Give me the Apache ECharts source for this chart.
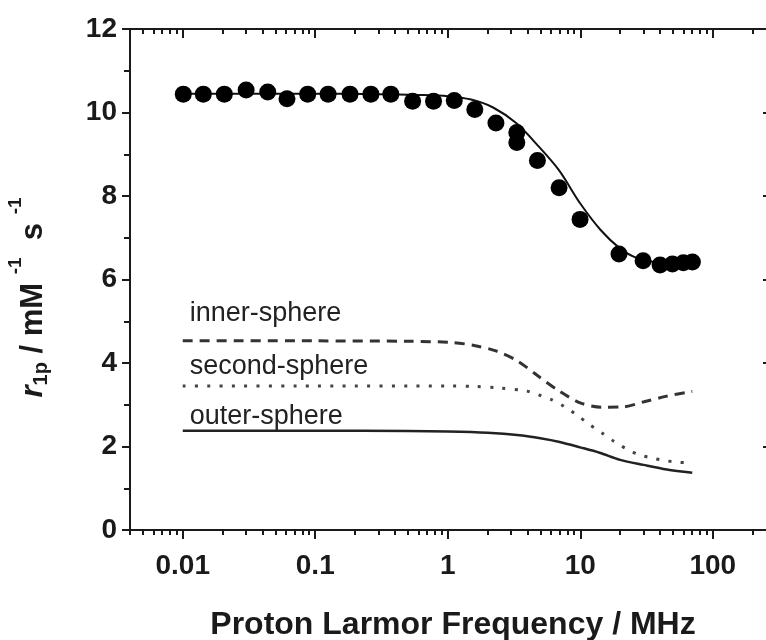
<!DOCTYPE html>
<html><head><meta charset="utf-8">
<script src="https://cdn.jsdelivr.net/npm/echarts@6/dist/echarts.min.js"></script>
<style>html,body{margin:0;padding:0;background:#fff}#c{width:766px;height:640px}</style>
</head><body><div id="c"></div>
<script>
// ---- data ----
const xMin = 0.004, xMax = 300;
const xTickValues = [0.01, 0.1, 1, 10, 100];
const xTickLabels = ['0.01', '0.1', '1', '10', '100'];
const xMinorTicks = [0.004,0.005,0.006,0.007,0.008,0.009,0.02,0.03,0.04,0.05,0.06,0.07,0.08,0.09,
  0.2,0.3,0.4,0.5,0.6,0.7,0.8,0.9,2,3,4,5,6,7,8,9,20,30,40,50,60,70,80,90,200,300];
const yTickLabels = ['0', '2', '4', '6', '8', '10', '12'];

const measuredFreq = [0.0101,0.0143,0.0206,0.0301,0.0438,0.0612,0.0877,0.125,0.183,0.263,0.372,0.543,0.781,1.12,
  1.60,2.31,3.32,3.32,4.75,6.92,9.96,19.6,29.8,40.0,49.6,60.0,70.2];
const measuredR1 = [10.44,10.44,10.44,10.54,10.49,10.33,10.44,10.44,10.44,10.44,10.44,10.27,10.27,10.29,
  10.07,9.75,9.52,9.28,8.85,8.20,7.44,6.61,6.45,6.35,6.37,6.40,6.42];

const fitFreq = [0.01,0.03,0.1,0.3,0.6,1.0,1.5,2.2,3.3,4.75,6.9,10,14.3,20,25.5,30,36,45,55,70];
const fitR1   = [10.45,10.45,10.45,10.44,10.42,10.39,10.31,10.12,9.74,9.22,8.62,7.82,7.18,6.74,6.54,6.47,6.42,6.40,6.40,6.41];

const innerFreq = [0.01,0.1,0.5,1.09,1.58,2.31,3.32,4.75,6.92,10.1,14.5,21.2,30.3,44.1,64.3,70];
const innerR1   = [4.53,4.53,4.52,4.49,4.42,4.29,4.06,3.70,3.33,3.04,2.94,2.95,3.07,3.20,3.30,3.32];

const secondFreq = [0.01,0.1,1.03,1.58,2.44,3.89,4.81,6.0,7.56,9.36,11.6,14.5,18.0,22.7,28.1,35.4,44.1,55.6,69.0];
const secondR1   = [3.45,3.45,3.45,3.44,3.40,3.33,3.24,3.13,2.96,2.76,2.54,2.33,2.12,1.93,1.80,1.72,1.66,1.62,1.61];

const outerFreq = [0.01,0.1,0.5,1,2,3.5,5,7,10,14,20,30,45,70];
const outerR1   = [2.38,2.38,2.37,2.36,2.33,2.27,2.20,2.11,1.98,1.85,1.68,1.56,1.45,1.37];

const seriesNames = ['inner-sphere', 'second-sphere', 'outer-sphere'];

// ---- chart ----
const FONT = '"Liberation Sans", Arial, sans-serif';
const INK = '#1a1a1a';
const zip = (a, b) => a.map((v, i) => [v, b[i]]);
const labelled = (pairs, text, pos) => pairs.map((p, i) => i === 0 ? {
  value: p,
  label: { show: true, formatter: text, position: pos, fontSize: 27, color: '#222', fontFamily: FONT }
} : { value: p });

const axisLineStyle = { color: INK, width: 2 };
const logCommon = { type: 'log', logBase: 10, min: xMin, max: xMax, splitLine: { show: false } };
const minorCommon = { type: 'value', min: Math.log10(xMin), max: Math.log10(xMax), splitLine: { show: false },
  axisLine: { show: false, onZero: false }, axisLabel: { show: false } };

const chart = echarts.init(document.getElementById('c'), null, { renderer: 'canvas' });
chart.setOption({
  animation: false,
  backgroundColor: '#fff',
  grid: { left: 130, right: -10, top: 29, bottom: 110, outerBoundsMode: 'none', containLabel: false },
  xAxis: [
    Object.assign({}, logCommon, {
      position: 'bottom',
      axisLine: { onZero: false, lineStyle: axisLineStyle },
      axisTick: { length: 9, lineStyle: { color: INK, width: 2 } },
      axisLabel: {
        showMinLabel: false, showMaxLabel: false,
        fontSize: 28, fontWeight: 'bold', color: INK, fontFamily: FONT, margin: 22,
        formatter: v => { const i = xTickValues.findIndex(t => Math.abs(Math.log10(t) - Math.log10(v)) < 1e-6); return i >= 0 ? xTickLabels[i] : ''; }
      },
      name: 'Proton Larmor Frequency / MHz', nameLocation: 'middle', nameGap: 79,
      nameTextStyle: { fontSize: 32, fontWeight: 'bold', color: INK, fontFamily: FONT }
    }),
    Object.assign({}, logCommon, {
      position: 'top',
      axisLine: { onZero: false, lineStyle: axisLineStyle },
      axisTick: { inside: true, length: 9, lineStyle: { color: INK, width: 2 } },
      axisLabel: { show: false }
    }),
    Object.assign({}, minorCommon, {
      position: 'bottom',
      axisTick: { customValues: xMinorTicks.map(Math.log10), length: 5, lineStyle: { color: INK, width: 2 } }
    }),
    Object.assign({}, minorCommon, {
      position: 'top',
      axisTick: { inside: true, customValues: xMinorTicks.map(Math.log10), length: 5, lineStyle: { color: INK, width: 2 } }
    })
  ],
  yAxis: [
    {
      type: 'value', min: 0, max: 12, interval: 2, position: 'left',
      splitLine: { show: false },
      axisLine: { show: true, onZero: false, lineStyle: axisLineStyle },
      axisTick: { length: 8, lineStyle: { color: INK, width: 2 } },
      minorTick: { show: true, splitNumber: 2, length: 6, lineStyle: { color: INK, width: 2 } },
      axisLabel: {
        fontSize: 28, fontWeight: 'bold', color: INK, fontFamily: FONT, margin: 13,
        formatter: v => yTickLabels[Math.round(v / 2)]
      },
      name: '{r|r}{sub|1p}{n| / mM }{sup|-1}{n|  s }{sup|-1}',
      nameLocation: 'middle', nameGap: 68, nameRotate: 90,
      nameTextStyle: {
        color: INK, fontFamily: FONT, padding: [0, 36, 0, 0],
        rich: {
          r: { fontSize: 31, fontWeight: 'bold', fontStyle: 'italic', fontFamily: FONT, color: INK, lineHeight: 58 },
          n: { fontSize: 31, fontWeight: 'bold', fontFamily: FONT, color: INK, lineHeight: 58 },
          sub: { fontSize: 20, fontWeight: 'bold', fontFamily: FONT, color: INK, lineHeight: 20, verticalAlign: 'bottom', padding: [0, 0, 11, 0] },
          sup: { fontSize: 19, fontWeight: 'bold', fontFamily: FONT, color: INK, lineHeight: 19, verticalAlign: 'top', padding: [2, 0, 0, 0] }
        }
      }
    },
    {
      type: 'value', min: 0, max: 12, interval: 2, position: 'right',
      splitLine: { show: false },
      axisLine: { show: true, onZero: false, lineStyle: axisLineStyle },
      axisTick: { inside: true, length: 13, lineStyle: { color: INK, width: 2 } },
      axisLabel: { show: false }
    }
  ],
  series: [
    {
      type: 'line', name: 'fit', xAxisIndex: 0, yAxisIndex: 0,
      data: zip(fitFreq, fitR1), smooth: 0.3, showSymbol: false,
      lineStyle: { color: '#111', width: 2 }, z: 3
    },
    {
      type: 'line', name: seriesNames[0], xAxisIndex: 0, yAxisIndex: 0,
      data: labelled(zip(innerFreq, innerR1), seriesNames[0], [7, -41]),
      smooth: 0.3, symbol: 'circle', symbolSize: 0, showSymbol: true,
      lineStyle: { color: '#333', width: 3, type: [10, 7] }, itemStyle: { color: '#333' }, z: 2
    },
    {
      type: 'line', name: seriesNames[1], xAxisIndex: 0, yAxisIndex: 0,
      data: labelled(zip(secondFreq, secondR1), seriesNames[1], [7, -33]),
      smooth: 0.3, symbol: 'circle', symbolSize: 0, showSymbol: true,
      lineStyle: { color: '#444', width: 3, type: [3, 9.3] }, itemStyle: { color: '#444' }, z: 2
    },
    {
      type: 'line', name: seriesNames[2], xAxisIndex: 0, yAxisIndex: 0,
      data: labelled(zip(outerFreq, outerR1), seriesNames[2], [7, -28]),
      smooth: 0.3, symbol: 'circle', symbolSize: 0, showSymbol: true,
      lineStyle: { color: '#222', width: 2.5 }, itemStyle: { color: '#222' }, z: 2
    },
    {
      type: 'scatter', name: 'measured', xAxisIndex: 0, yAxisIndex: 0,
      data: zip(measuredFreq, measuredR1), symbol: 'circle', symbolSize: 17,
      itemStyle: { color: '#000', opacity: 1 }, z: 4
    }
  ]
});
</script>
</body></html>
